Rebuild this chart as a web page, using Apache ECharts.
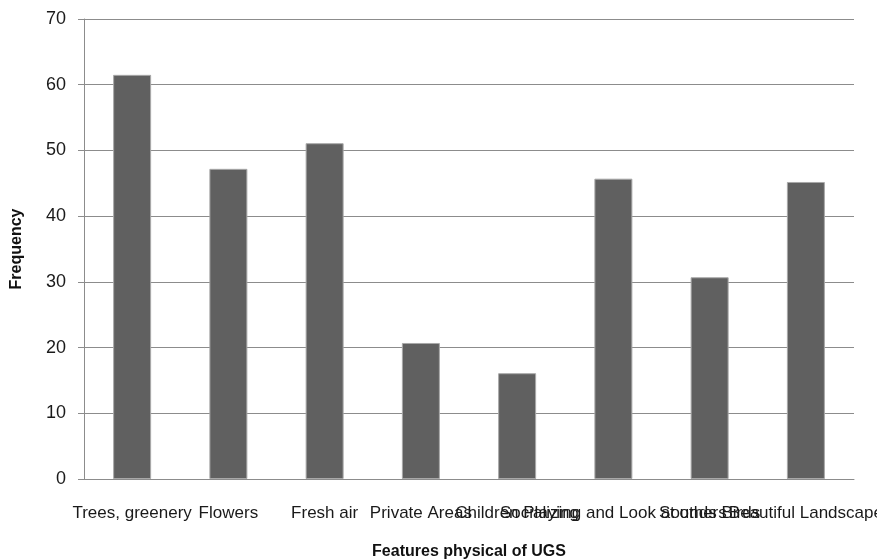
<!DOCTYPE html>
<html>
<head>
<meta charset="utf-8">
<script src="https://cdn.jsdelivr.net/npm/echarts@6/dist/echarts.min.js"></script>
<style>
  html, body { margin: 0; padding: 0; background: #fff; }
  #chart { width: 877px; height: 560px; }
</style>
</head>
<body>
<div id="chart"></div>
<script>
// Physical features of urban green space and how often they were named
const categories = [
  'Trees, greenery', 'Flowers', 'Fresh air', 'Private Areas',
  'Children Playing', 'Socializing and Look at others', 'Sounds Birds', 'Beautiful Landscape'
];
const frequency = [61.5, 47.2, 51.1, 20.7, 16.1, 45.7, 30.7, 45.2];
const yTicks = { min: 0, max: 70, step: 10 };

const font = '"Liberation Sans", Arial, sans-serif';
const chart = echarts.init(document.getElementById('chart'));
chart.setOption({
  animation: false,
  backgroundColor: '#ffffff',
  grid: { left: 84, right: 23, top: 19, bottom: 81, containLabel: false, outerBoundsMode: 'none' },
  xAxis: {
    type: 'category',
    data: categories,
    name: 'Features physical of UGS',
    nameLocation: 'middle',
    nameGap: 65,
    nameTextStyle: { fontFamily: font, fontSize: 16, fontWeight: 'bold', color: '#111' },
    axisLine: { show: true, lineStyle: { color: '#8c8c8c', width: 1 } },
    axisTick: { show: false },
    axisLabel: {
      interval: 0,
      hideOverlap: false,
      margin: 26,
      fontFamily: font,
      fontSize: 17,
      color: '#1a1a1a'
    }
  },
  yAxis: {
    type: 'value',
    min: yTicks.min,
    max: yTicks.max,
    interval: yTicks.step,
    name: 'Frequency',
    nameLocation: 'middle',
    nameGap: 59,
    nameTextStyle: { fontFamily: font, fontSize: 16, fontWeight: 'bold', color: '#111' },
    axisLine: { show: true, lineStyle: { color: '#8c8c8c', width: 1 } },
    axisTick: { show: true, length: 6, lineStyle: { color: '#8c8c8c' } },
    axisLabel: { margin: 18, fontFamily: font, fontSize: 18, color: '#1a1a1a' },
    splitLine: { show: true, lineStyle: { color: '#8c8c8c', width: 1 } }
  },
  series: [{
    type: 'bar',
    data: frequency,
    barWidth: 38,
    itemStyle: { color: '#606060', borderColor: '#a8a8a8', borderWidth: 1 }
  }]
});
</script>
</body>
</html>
